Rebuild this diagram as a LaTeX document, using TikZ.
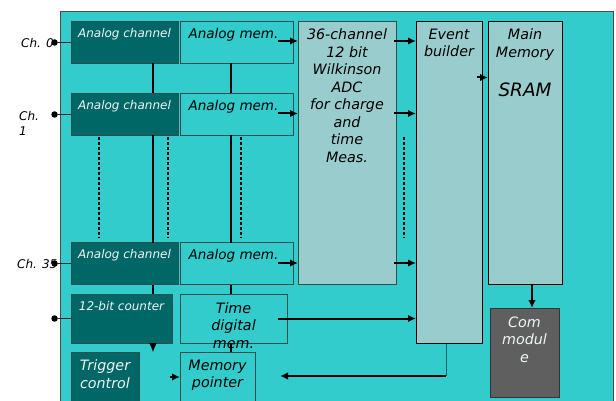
\documentclass[tikz,border=0pt]{standalone}
\usepackage{fontspec}
\setmainfont{DejaVu Sans}
\usetikzlibrary{arrows.meta,positioning,calc}
\definecolor{asiccyan}{HTML}{33CCCC}
\definecolor{darkteal}{HTML}{006666}
\definecolor{paleteal}{HTML}{99CCCC}
\definecolor{comgray}{HTML}{5F5F5F}
\definecolor{edgegray}{HTML}{2F4F4F}
\definecolor{softwhite}{HTML}{EEF6F6}

\begin{document}
\begin{tikzpicture}[
                x=1pt, y=-1pt,
                >=Latex,
                box/.style={draw=edgegray, line width=0.8pt, inner sep=0pt, outer sep=0pt},
                chanbox/.style={box, fill=darkteal, minimum width=107pt, minimum height=42pt},
                membox/.style={box, fill=asiccyan, minimum width=113pt, minimum height=42pt},
                tallbox/.style={box, fill=paleteal},
                bigtxt/.style={inner sep=0pt, align=center, font=\fontsize{14.3}{17.5}\selectfont\itshape},
                memtxt/.style={inner sep=0pt, font=\fontsize{13.5}{16}\selectfont\itshape},
                smalltxt/.style={inner sep=0pt, font=\fontsize{12}{15}\selectfont\itshape},
                dot/.style={circle, fill=black, inner sep=0pt, minimum size=6.5pt},
                wire/.style={darkteal, line width=0.8pt},
                bus/.style={line width=1.5pt},
                dotbus/.style={line width=1.6pt, dash pattern=on 3pt off 2pt},
                line/.style={-{Latex[length=8pt,width=7.5pt]}, line width=2pt},
            ]
            \useasboundingbox (0,0) rectangle (616,401);

            % ----- chip background -----
            \node[box, fill=asiccyan, draw=gray!60!black, anchor=north west,
                  minimum width=553pt, minimum height=420pt] (asic) at (60,11) {};

            % ----- channel column -----
            \node[chanbox, anchor=north west] (ch0) at (71,21.5) {};
            \node[chanbox, below=30pt of ch0] (ch1) {};
            \node[chanbox, below=107pt of ch1] (ch35) {};
            \node[membox, right=2pt of ch0] (mem0) {};
            \node[membox, right=2pt of ch1] (mem1) {};
            \node[membox, right=2pt of ch35] (mem35) {};

            \node[box, fill=darkteal, minimum width=101pt, minimum height=49pt,
                  below right=9.5pt and 0pt of ch35.south west] (cnt) {};
            \node[box, fill=asiccyan, minimum width=107pt, minimum height=49pt,
                  right=8pt of cnt] (tdc) {};
            \node[box, fill=darkteal, minimum width=68pt, minimum height=58pt,
                  below right=9pt and 0pt of cnt.south west] (trig) {};
            \node[box, fill=asiccyan, minimum width=75pt, minimum height=58pt,
                  below right=9pt and 0pt of tdc.south west] (mptr) {};

            % ----- right part -----
            \node[tallbox, minimum width=98pt, minimum height=263pt,
                  below right=0pt and 5pt of mem0.north east] (adc) {};
            \node[tallbox, draw=black, minimum width=66pt, minimum height=322pt,
                  below right=0pt and 20pt of adc.north east] (eb) {};
            \node[tallbox, draw=black, minimum width=74pt, minimum height=263pt,
                  below right=0pt and 6pt of eb.north east] (mm) {};
            \node[box, fill=comgray, draw=black!80, minimum width=69pt, minimum height=89pt,
                  below right=23.5pt and 2pt of mm.south west] (com) {};

            % texts
            \node[smalltxt, text=softwhite, below=7pt of ch0.north] (ch0t) {Analog channel};
            \node[smalltxt, text=softwhite, below=7pt of ch1.north] (ch1t) {Analog channel};
            \node[smalltxt, text=softwhite, below=7pt of ch35.north] (ch35t) {Analog channel};
            \node[memtxt, below=7pt of mem0.north, xshift=-3pt] (mem0t) {Analog mem.};
            \node[memtxt, below=7pt of mem1.north, xshift=-3pt] (mem1t) {Analog mem.};
            \node[memtxt, below=7pt of mem35.north, xshift=-3pt] (mem35t) {Analog mem.};
            \node[smalltxt, text=softwhite, below=7.5pt of cnt.north] (cntt) {12-bit counter};
            \node[bigtxt, below=8pt of tdc.north] (tdct) {Time\\digital\\mem.};
            \node[bigtxt, text=softwhite, below=7.5pt of trig.north] (trigt) {Trigger\\control};
            \node[bigtxt, below=7.5pt of mptr.north] (mptrt) {Memory\\pointer};
            \node[bigtxt, below=7pt of adc.north] (adct)
                {36-channel\\12 bit\\Wilkinson\\ADC\\for charge\\and\\time\\Meas.};
            \node[bigtxt, below=7pt of eb.north] (ebt) {Event\\builder};
            \node[bigtxt, below=7pt of mm.north] (mmt) {Main\\Memory};
            \node[inner sep=0pt, font=\fontsize{18.4}{22}\selectfont\itshape,
                  below=61.5pt of mm.north] (sram) {SRAM};
            \node[bigtxt, text=softwhite, below=8.5pt of com.north] (comt) {Com\\modul\\e};

            % channel inputs
            \node[smalltxt, anchor=base west] (lab0) at (21,48) {Ch. 0};
            \node[smalltxt, anchor=north west, align=left] (lab1) at (19,111) {Ch.\\1};
            \node[smalltxt, anchor=base west] (lab35) at (17,268) {Ch. 35};
            \node[dot, left=13pt of ch0] (d0) {};
            \node[dot, left=13pt of ch1] (d1) {};
            \node[dot, left=13pt of ch35] (d35) {};
            \node[dot, left=13pt of cnt] (dc) {};
            \foreach \d/\c in {d0/ch0, d1/ch1, d35/ch35, dc/cnt}
                \draw[black!85, line width=0.8pt] (\d) -- (\c);

            % vertical buses
            \coordinate (busA) at ([xshift=28.5pt]ch0.south);
            \coordinate (busB) at ([xshift=-5.5pt]mem0.south);
            \foreach \a/\b in {ch0/ch1, ch1/ch35, ch35/cnt}
                \draw[bus] (busA |- \a.south) -- (busA |- \b.north);
            \foreach \a/\b in {mem0/mem1, mem1/mem35, mem35/tdc, tdc/mptr}
                \draw[bus] (busB |- \a.south) -- (busB |- \b.north);
            \coordinate (cnt-out) at (busA |- trig.north);
            \draw[-{Latex[length=9pt,width=8pt]}, line width=1pt] (busA |- cnt.south) -- (cnt-out);

            % dotted repeats
            \coordinate (dtop) at ([yshift=-1.5pt]ch1.south);
            \coordinate (dbot) at ([yshift=4.5pt]ch35.north);
            \coordinate (rep1) at ([xshift=-25.5pt]ch1.south);
            \coordinate (rep2) at ([xshift=43.5pt]ch1.south);
            \coordinate (rep3) at ([xshift=4.5pt]mem1.south);
            \coordinate (rep4) at ($(adc.east)!0.4!(eb.west)$);
            \foreach \r in {rep1, rep2, rep3, rep4}
                \draw[dotbus] (dtop -| \r) -- (dbot -| \r);

            % data flow
            \foreach \m/\dy in {mem0/1.5, mem1/1, mem35/0.5} {
                \draw[line] ([xshift=-15pt, yshift=\dy pt]\m.east) coordinate (\m-out) -- (\m-out -| adc.west);
                \draw[line] ([xshift=-2pt]\m-out -| adc.east) -- (\m-out -| eb.west);
            }
            \draw[line] ($(eb.north east)+(-5,56)$) coordinate (eb-out) -- (eb-out -| mm.west);
            \draw[line] ([xshift=7pt]mm.south) coordinate (mm-out) -- (mm-out |- com.north);
            \draw[line] ([xshift=-9pt]tdc.east) coordinate (tdc-out) -- (tdc-out -| eb.west);

            % back to memory pointer
            \coordinate (mp-in) at ([xshift=25pt, yshift=5pt]mptr.east);
            \draw[wire] ([xshift=-3pt]eb.south) coordinate (eb-low) -- (eb-low |- mp-in);
            \draw[line] (eb-low |- mp-in) -- (mp-in);
            \draw[line] ([xshift=-10pt, yshift=4pt]mptr.west) coordinate (tg-out) -- (tg-out -| mptr.west);

\end{tikzpicture}
\end{document}
